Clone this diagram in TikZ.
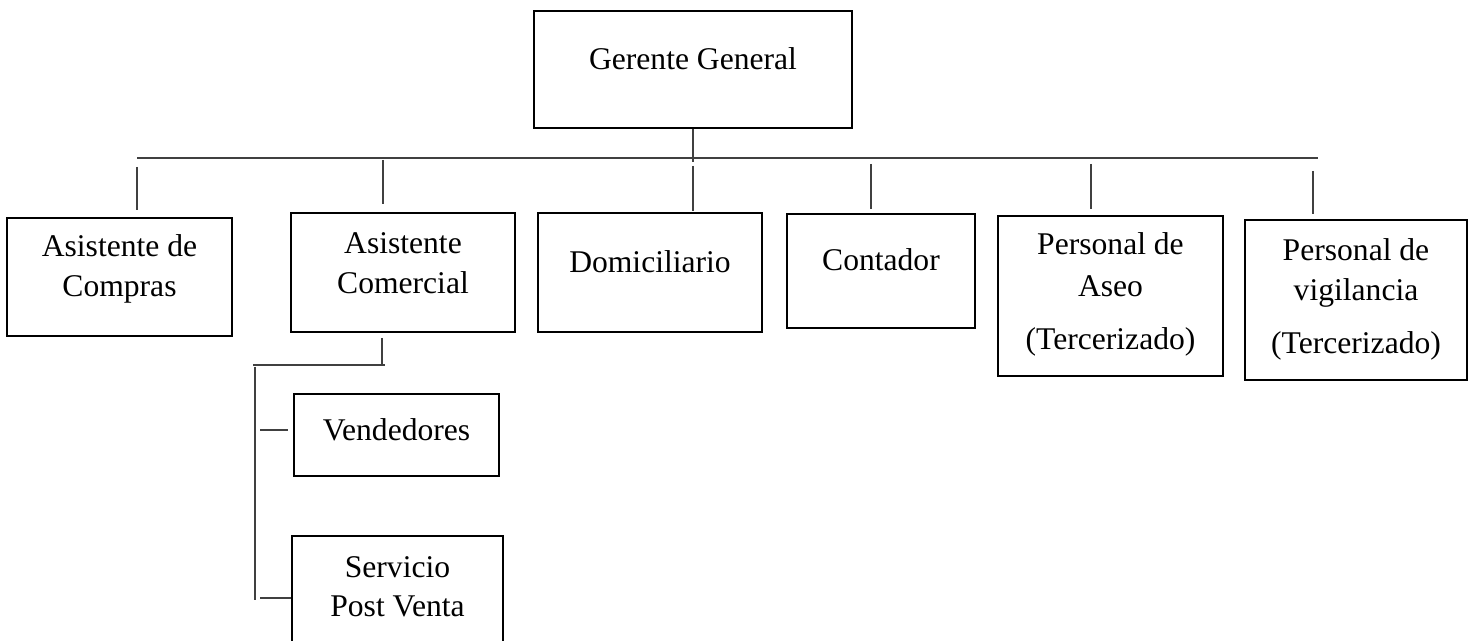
\documentclass[tikz,border=0pt]{standalone}
\usepackage{fontspec}
\setmainfont{Liberation Serif}
\usepackage{tikz}

\begin{document}
\begin{tikzpicture}[x=0.5pt,y=-0.5pt]
        \tikzstyle{orgbox}=[draw=black,line width=1pt,align=center,
            inner sep=0pt,anchor=base,font=\fontsize{15.8pt}{20pt}\selectfont]
        \tikzstyle{conn}=[draw=black!75,line width=0.6pt]
            \useasboundingbox (0,0) rectangle (1473,641);
            \clip (0,0) rectangle (1473,641);

            \node[orgbox, minimum width=159pt, text height=29.5pt, text depth=29pt]
                (gg) at (693,70) {Gerente General};

            \node[orgbox, minimum width=112.5pt, text height=39.5pt, text depth=19.5pt]
                (acomp) at (119.5,297) {Asistente de\\Compras};
            \node[orgbox, minimum width=112pt, text height=40.5pt, text depth=19pt]
                (acom) at (403,294) {Asistente\\Comercial};
            \node[orgbox, minimum width=112pt, text height=30pt, text depth=29.5pt]
                (dom) at (650,273) {Domiciliario};
            \node[orgbox, minimum width=94pt, text height=28.5pt, text depth=28.5pt]
                (cont) at (881,271) {Contador};
            \node[orgbox, minimum width=112.5pt, text height=67pt, text depth=13pt]
                (aseo) at (1110.5,350) {Personal de\\[1pt]Aseo\\[6.5pt](Tercerizado)};
            \node[orgbox, minimum width=111pt, text height=67pt, text depth=13pt]
                (vig) at (1356,354) {Personal de\\vigilancia\\[6.5pt](Tercerizado)};

            \node[orgbox, minimum width=102.5pt, text height=23.5pt, text depth=17.5pt]
                (vend) at (396.5,441) {Vendedores};
            \node[orgbox, minimum width=105.5pt, text height=40.5pt, text depth=36.5pt]
                (spv) at (397.5,617) {Servicio\\Post Venta};

            % bus under the manager
            \coordinate (gj) at (693,162);
            \coordinate (busL) at (137,158);
            \coordinate (busR) at (1318,158);
            \draw[conn] (gg) -- (gj);
            \draw[conn] (busL) -- (busR);

            % drops to the first level
            \coordinate (dA) at (137,167);
            \coordinate (dB) at (383,160);
            \coordinate (dC) at (693,166);
            \coordinate (dD) at (871,164);
            \coordinate (dE) at (1091,164);
            \coordinate (dF) at (1313,171);
            \draw[conn, shorten >=3.5pt] (dA) -- (dA |- acomp.north);
            \draw[conn, shorten >=4pt] (dB) -- (dB |- acom.north);
            \draw[conn, shorten >=0.5pt] (dC) -- (dC |- dom.north);
            \draw[conn, shorten >=2pt] (dD) -- (dD |- cont.north);
            \draw[conn, shorten >=3pt] (dE) -- (dE |- aseo.north);
            \draw[conn, shorten >=2.5pt] (dF) -- (dF |- vig.north);

            % sales branch
            \coordinate (sR) at (382,365);
            \coordinate (sL) at (253,365);
            \coordinate (vTop) at (255,367);
            \coordinate (vBot) at (255,600);
            \coordinate (tV) at (260,430);
            \coordinate (tS) at (260,598);
            \draw[conn, shorten <=2.5pt] (sR |- acom.south) -- (sR);
            \draw[conn] (sL) -- ([xshift=1.5pt]sR);
            \draw[conn] (vTop) -- (vBot);
            \draw[conn, shorten >=2.5pt] (tV) -- (tV -| vend.west);
            \draw[conn] (tS) -- (tS -| spv.west);
        \end{tikzpicture}
\end{document}
